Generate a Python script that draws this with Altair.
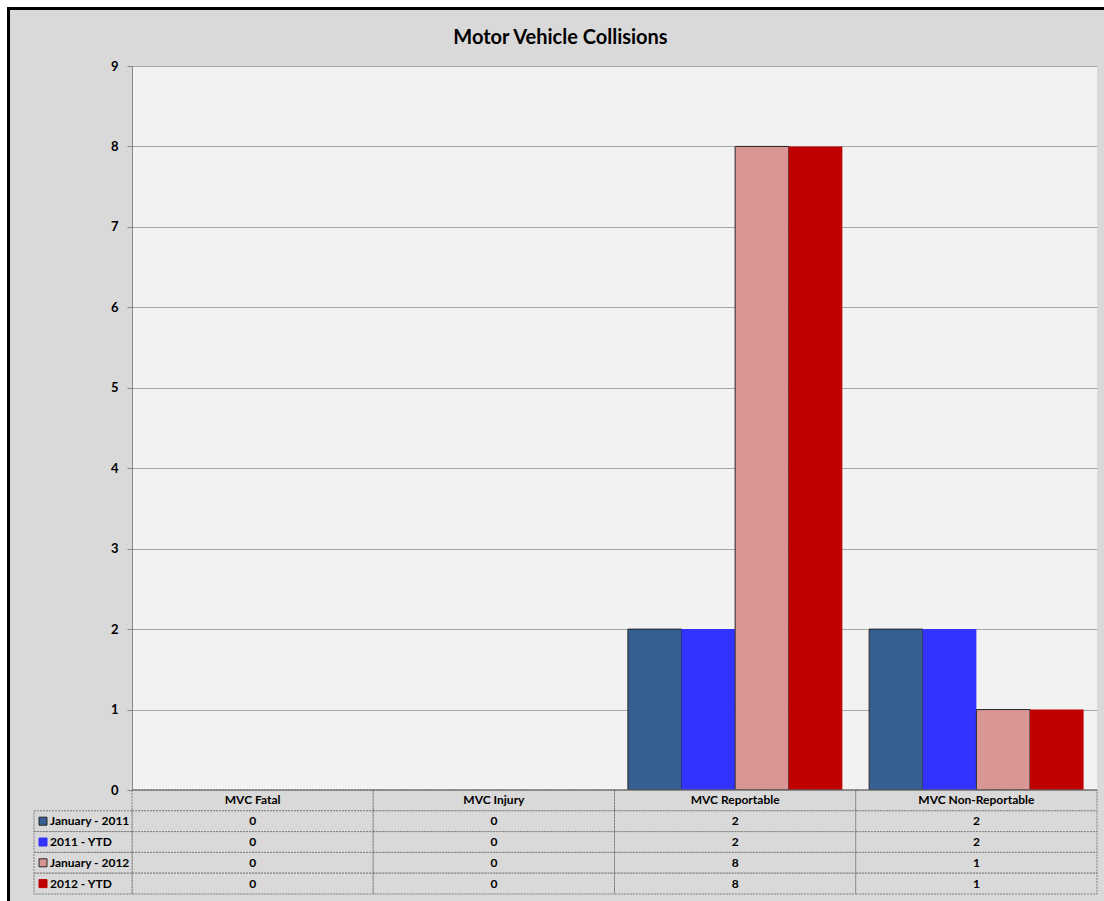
import altair as alt
import pandas as pd

# ---- data ----
categories = ["MVC Fatal", "MVC Injury", "MVC Reportable", "MVC Non-Reportable"]
series = ["January - 2011", "2011 - YTD", "January - 2012", "2012 - YTD"]
jan_2011 = [0, 0, 2, 2]
ytd_2011 = [0, 0, 2, 2]
jan_2012 = [0, 0, 8, 1]
ytd_2012 = [0, 0, 8, 1]
colors = ["#376092", "#3333FF", "#DA9694", "#C00000"]
outlined = ["January - 2011", "January - 2012"]
y_ticks = list(range(0, 10))

# ---- layout ----
FONT = "Lato"
PLOT_W = 965          # width of the plot / table body
BAR_H = 724           # height of the bar area
TABLE_H = 104         # height of the data table under the bars
PAD_L, PAD_T = 132, 66
COL_W = PLOT_W / len(categories)
LEG_W = 98 / COL_W     # legend column width, in table-column units
SQ_L, SQ_R = -93 / COL_W, -85 / COL_W   # legend swatch edges
TXT_X = -82 / COL_W                     # legend label start
N_ROWS = len(series) + 1
SQ_HALF = 4 / (TABLE_H / N_ROWS)

series_values = [jan_2011, ytd_2011, jan_2012, ytd_2012]

bars_df = pd.DataFrame(
    [
        {"category": c, "series": s, "value": vals[i]}
        for s, vals in zip(series, series_values)
        for i, c in enumerate(categories)
    ]
)

# table cells: header row 0, one row per series after it
cells = []
for i, c in enumerate(categories):
    cells.append({"x0": i, "x1": i + 1, "y0": 0, "y1": 1, "label": c})
for r, (s, vals) in enumerate(zip(series, series_values), start=1):
    for i, v in enumerate(vals):
        cells.append({"x0": i, "x1": i + 1, "y0": r, "y1": r + 1, "label": str(v)})
cells_df = pd.DataFrame(cells)
cells_df["xm"] = (cells_df["x0"] + cells_df["x1"]) / 2
cells_df["ym"] = (cells_df["y0"] + cells_df["y1"]) / 2

legend_df = pd.DataFrame(
    [
        {
            "x0": -LEG_W, "x1": 0, "y0": r, "y1": r + 1, "ym": r + 0.5,
            "label": s, "color": col,
            "sq0": SQ_L, "sq1": SQ_R, "sy0": r + 0.5 - SQ_HALF, "sy1": r + 0.5 + SQ_HALF,
            "edge": "#262626" if s in outlined else col,
        }
        for r, (s, col) in enumerate(zip(series, colors), start=1)
    ]
)

col_scale = alt.Scale(domain=[0, len(categories)], range=[0, PLOT_W], nice=False, zero=False)
row_scale = alt.Scale(domain=[0, N_ROWS], range=[BAR_H, BAR_H + TABLE_H], nice=False, zero=False)

# ---- bars ----
bars = (
    alt.Chart(bars_df)
    .mark_bar(strokeWidth=1)
    .encode(
        x=alt.X("category:N", sort=categories,
                scale=alt.Scale(domain=categories, paddingInner=0, paddingOuter=0), axis=None),
        xOffset=alt.XOffset("series:N", sort=series,
                            scale=alt.Scale(domain=series, paddingInner=0, paddingOuter=0.25)),
        y=alt.Y(
            "value:Q",
            scale=alt.Scale(domain=[0, 9], range=[BAR_H, 0], nice=False),
            axis=alt.Axis(
                values=y_ticks, title=None, grid=True, gridColor="#A6A6A6", gridWidth=1,
                domainColor="#868686", tickColor="#868686", tickSize=5,
                labelPadding=9, labelFont=FONT, labelFontSize=13, labelFontWeight="bold",
                labelColor="black",
            ),
        ),
        color=alt.Color("series:N", sort=series,
                        scale=alt.Scale(domain=series, range=colors), legend=None),
        stroke=alt.condition(
            alt.FieldOneOfPredicate(field="series", oneOf=outlined),
            alt.value("#262626"),
            alt.value("transparent"),
        ),
    )
    .transform_filter("datum.value > 0")
)

# ---- data table ----
cell_rects = (
    alt.Chart(cells_df)
    .mark_rect(fill="#D9D9D9", stroke="#7F7F7F", strokeWidth=1, strokeDash=[2, 1])
    .encode(
        x=alt.X("x0:Q", scale=col_scale, axis=None), x2="x1:Q",
        y=alt.Y("y0:Q", scale=row_scale, axis=None), y2="y1:Q",
    )
)
cell_text = (
    alt.Chart(cells_df)
    .mark_text(font=FONT, fontSize=12, fontWeight="bold", color="black", baseline="middle")
    .encode(
        x=alt.X("xm:Q", scale=col_scale, axis=None),
        y=alt.Y("ym:Q", scale=row_scale, axis=None),
        text="label:N",
    )
)
legend_rects = (
    alt.Chart(legend_df)
    .mark_rect(fill="#D9D9D9", stroke="#7F7F7F", strokeWidth=1, strokeDash=[2, 1])
    .encode(
        x=alt.X("x0:Q", scale=col_scale, axis=None), x2="x1:Q",
        y=alt.Y("y0:Q", scale=row_scale, axis=None), y2="y1:Q",
    )
)
legend_swatches = (
    alt.Chart(legend_df)
    .mark_rect(strokeWidth=1)
    .encode(
        x=alt.X("sq0:Q", scale=col_scale, axis=None), x2="sq1:Q",
        y=alt.Y("sy0:Q", scale=row_scale, axis=None), y2="sy1:Q",
        fill=alt.Fill("color:N", scale=None),
        stroke=alt.Stroke("edge:N", scale=None),
    )
)
legend_text = (
    alt.Chart(legend_df)
    .mark_text(font=FONT, fontSize=12, fontWeight="bold", color="black",
               align="left", baseline="middle")
    .encode(
        x=alt.X("tx:Q", scale=col_scale, axis=None),
        y=alt.Y("ym:Q", scale=row_scale, axis=None),
        text="label:N",
    )
    .transform_calculate(tx=str(TXT_X))
)
zero_line = (
    alt.Chart(pd.DataFrame({"x0": [0], "x1": [len(categories)], "y0": [0]}))
    .mark_rule(color="#595959", strokeWidth=1)
    .encode(
        x=alt.X("x0:Q", scale=col_scale, axis=None), x2="x1:Q",
        y=alt.Y("y0:Q", scale=row_scale, axis=None),
    )
)

# ---- outer frame ----
frame_df = pd.DataFrame({"k": [0]})
margin = alt.Chart(frame_df).mark_rect(fill="transparent", stroke="white", strokeWidth=14).encode(
    x=alt.value(-PAD_L), y=alt.value(-PAD_T), x2=alt.value(2000), y2=alt.value(2000)
)
border = alt.Chart(frame_df).mark_rect(fill="transparent", stroke="black", strokeWidth=3).encode(
    x=alt.value(8.5 - PAD_L), y=alt.value(8.5 - PAD_T), x2=alt.value(2000), y2=alt.value(2000)
)

chart = (
    alt.layer(
        bars, cell_rects, legend_rects, zero_line, cell_text,
        legend_swatches, legend_text, margin, border,
    )
    .resolve_scale(x="independent", y="independent", color="independent",
                   fill="independent", stroke="independent")
    .properties(
        width=PLOT_W,
        height=BAR_H + TABLE_H,
        autosize=alt.AutoSizeParams(type="none"),
        padding={"left": PAD_L, "top": PAD_T, "right": 7, "bottom": 7},
        title=alt.TitleParams(
            "Motor Vehicle Collisions", font=FONT, fontSize=20, fontWeight="bold",
            color="black", anchor="middle", frame="group", dx=-54, offset=14, dy=69,
        ),
    )
    .configure(background="#D9D9D9")
    .configure_view(fill="#F2F2F2", strokeWidth=0)
)

chart.save("out.html", embed_options={"renderer": "svg", "actions": False})
